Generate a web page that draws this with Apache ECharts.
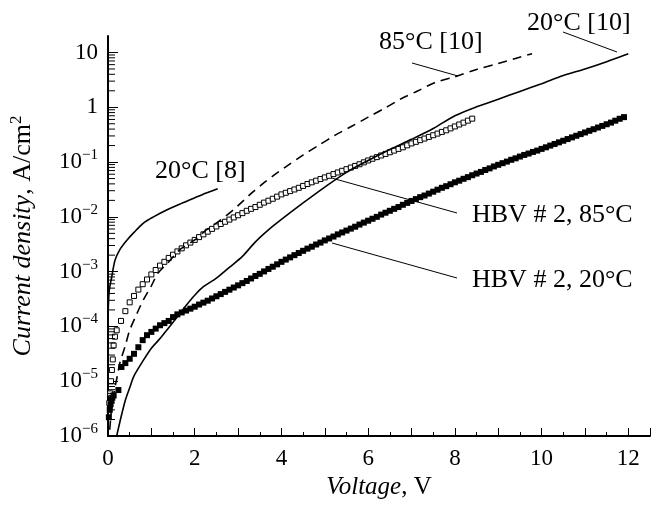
<!DOCTYPE html>
<html lang="en">
  <head>
    <meta charset="UTF-8" />
    <title>J-V</title>
    <script src="https://cdn.jsdelivr.net/npm/echarts@6.0.0/dist/echarts.min.js"></script>
    <style>
      html, body { margin: 0; padding: 0; background: #fff; }
    </style>
  </head>
  <body>
    <div id="main" style="width: 653px; height: 506px"></div>
    <script>
      // tick positions
      var xLabels = [0, 2, 4, 6, 8, 10, 12]
      var yMajor = [1e-6, 1e-5, 1e-4, 1e-3, 1e-2, 1e-1, 1, 10]
      var yMinor = []
      yMajor.slice(0, 7).forEach(function (d) {
        for (var m = 2; m <= 9; m++) yMinor.push(+(m * d).toPrecision(3))
      })

      // 20°C [8], solid
      var ref8_20 = [
        [0.0, 1.5e-4], [0.01, 2.5e-4], [0.03, 4.6e-4], [0.085, 7.9e-4], [0.16, 1.6e-3],
        [0.27, 2.5e-3], [0.43, 3.7e-3], [0.6, 5.2e-3], [0.81, 7.6e-3], [1.05, 1.0e-2],
        [1.34, 1.32e-2], [1.65, 1.7e-2], [1.95, 2.14e-2], [2.25, 2.7e-2], [2.53, 3.27e-2]
      ]
      // 85°C [10], dashed
      var ref10_85 = [
        [0.04, 1.3e-6], [0.08, 3e-6], [0.15, 7e-6], [0.22, 1.3e-5], [0.27, 2.1e-5], [0.4, 4.5e-5],
        [0.5, 8.5e-5], [0.65, 1.6e-4], [0.81, 3e-4], [1.0, 5.5e-4], [1.15, 9.3e-4], [1.4, 1.5e-3],
        [1.65, 2.5e-3], [2.0, 3.8e-3], [2.26, 5.7e-3], [2.6, 8.8e-3], [2.87, 1.3e-2], [3.1, 1.9e-2],
        [3.33, 2.8e-2], [3.6, 4.2e-2], [3.82, 5.7e-2], [4.1, 8.2e-2], [4.47, 0.13], [4.85, 0.2],
        [5.24, 0.31], [5.6, 0.44], [6.0, 0.66], [6.4, 0.98], [6.76, 1.43], [7.15, 2.0],
        [7.53, 2.8], [8.0, 3.6], [8.5, 4.9], [9.0, 6.3], [9.4, 7.8], [9.78, 9.5]
      ]
      // 20°C [10], solid
      var ref10_20 = [
        [0.2, 1e-6], [0.3, 2.2e-6], [0.4, 4.5e-6], [0.5, 7.6e-6], [0.6, 1.25e-5], [0.8, 2.3e-5],
        [1.0, 4e-5], [1.2, 6e-5], [1.4, 9.5e-5], [1.6, 1.5e-4], [1.8, 2.4e-4], [2.0, 3.7e-4],
        [2.2, 5.3e-4], [2.5, 7.6e-4], [2.8, 1.2e-3], [3.1, 1.9e-3], [3.4, 3.5e-3], [3.7, 5.8e-3],
        [4.0, 9.0e-3], [4.5, 1.8e-2], [5.0, 3.5e-2], [5.5, 6.5e-2], [6.0, 0.107], [6.5, 0.17],
        [7.0, 0.26], [7.5, 0.41], [8.0, 0.7], [8.5, 1.02], [9.0, 1.4], [9.5, 1.95],
        [10.0, 2.7], [10.5, 3.8], [11.0, 5.0], [11.5, 6.8], [12.0, 9.5]
      ]
      // HBV #2, 85°C (open squares)
      var hbv85 = [
        [0.03, 4e-6], [0.05, 6e-6], [0.07, 1e-5], [0.09, 1.6e-5], [0.11, 2.5e-5], [0.13, 4.5e-5],
        [0.16, 6.5e-5], [0.2, 8.5e-5], [0.3, 1.26e-4], [0.4, 1.9e-4], [0.5, 2.75e-4], [0.6, 3.6e-4],
        [0.7, 4.7e-4], [0.8, 5.9e-4], [0.9, 7.2e-4], [1.0, 8.9e-4], [1.1, 1.07e-3], [1.2, 1.29e-3],
        [1.3, 1.51e-3], [1.4, 1.78e-3], [1.5, 2.04e-3], [1.6, 2.34e-3], [1.7, 2.66e-3], [1.8, 3.02e-3],
        [1.9, 3.39e-3], [2.0, 3.8e-3], [2.1, 4.27e-3], [2.2, 4.79e-3], [2.3, 5.37e-3], [2.4, 6.03e-3],
        [2.5, 6.68e-3], [2.6, 7.41e-3], [2.7, 8.13e-3], [2.8, 8.91e-3], [2.9, 9.77e-3], [3.0, 1.07e-2],
        [3.1, 1.17e-2], [3.2, 1.29e-2], [3.3, 1.4e-2], [3.4, 1.51e-2], [3.5, 1.66e-2], [3.6, 1.82e-2],
        [3.7, 1.97e-2], [3.8, 2.14e-2], [3.9, 2.34e-2], [4.0, 2.57e-2], [4.1, 2.75e-2], [4.2, 2.95e-2],
        [4.3, 3.16e-2], [4.4, 3.39e-2], [4.5, 3.67e-2], [4.6, 3.98e-2], [4.7, 4.27e-2], [4.8, 4.57e-2],
        [4.9, 4.9e-2], [5.0, 5.25e-2], [5.1, 5.62e-2], [5.2, 6.03e-2], [5.3, 6.46e-2], [5.4, 6.92e-2],
        [5.5, 7.41e-2], [5.6, 7.94e-2], [5.7, 8.51e-2], [5.8, 9.12e-2], [5.9, 9.89e-2], [6.0, 0.107],
        [6.1, 0.115], [6.2, 0.123], [6.3, 0.132], [6.4, 0.141], [6.5, 0.151], [6.6, 0.162],
        [6.7, 0.174], [6.8, 0.186], [6.9, 0.202], [7.0, 0.219], [7.1, 0.234], [7.2, 0.251],
        [7.3, 0.269], [7.4, 0.288], [7.5, 0.309], [7.6, 0.331], [7.7, 0.355], [7.8, 0.38],
        [7.9, 0.412], [8.0, 0.447], [8.1, 0.485], [8.2, 0.525], [8.3, 0.57], [8.4, 0.62]
      ]
      // HBV #2, 20°C (filled squares)
      var hbv20 = [
        [0.02, 2.2e-6], [0.04, 3e-6], [0.06, 3.8e-6], [0.08, 4.5e-6], [0.1, 5e-6], [0.13, 5.5e-6],
        [0.24, 6.9e-6], [0.31, 1.82e-5], [0.4, 2.14e-5], [0.5, 2.57e-5], [0.6, 3.16e-5], [0.7, 4.17e-5],
        [0.8, 5.62e-5], [0.9, 6.92e-5], [1.0, 7.94e-5], [1.1, 9.12e-5], [1.2, 1.05e-4], [1.3, 1.15e-4],
        [1.4, 1.26e-4], [1.5, 1.48e-4], [1.6, 1.66e-4], [1.7, 1.8e-4], [1.8, 1.95e-4], [1.9, 2.11e-4],
        [2.0, 2.29e-4], [2.1, 2.51e-4], [2.2, 2.72e-4], [2.3, 2.95e-4], [2.4, 3.24e-4], [2.5, 3.55e-4],
        [2.6, 3.89e-4], [2.7, 4.27e-4], [2.8, 4.68e-4], [2.9, 5.13e-4], [3.0, 5.62e-4], [3.1, 6.17e-4],
        [3.2, 6.76e-4], [3.3, 7.5e-4], [3.4, 8.32e-4], [3.5, 9.12e-4], [3.6, 1.01e-3], [3.7, 1.12e-3],
        [3.8, 1.23e-3], [3.9, 1.36e-3], [4.0, 1.51e-3], [4.1, 1.66e-3], [4.2, 1.82e-3], [4.3, 2.0e-3],
        [4.4, 2.19e-3], [4.5, 2.4e-3], [4.6, 2.63e-3], [4.7, 2.85e-3], [4.8, 3.13e-3], [4.9, 3.39e-3],
        [5.0, 3.72e-3], [5.1, 4.03e-3], [5.2, 4.37e-3], [5.3, 4.79e-3], [5.4, 5.19e-3], [5.5, 5.62e-3],
        [5.6, 6.1e-3], [5.7, 6.61e-3], [5.8, 7.24e-3], [5.9, 7.85e-3], [6.0, 8.51e-3], [6.1, 9.23e-3],
        [6.2, 1.0e-2], [6.3, 1.1e-2], [6.4, 1.19e-2], [6.5, 1.29e-2], [6.6, 1.4e-2], [6.7, 1.51e-2],
        [6.8, 1.66e-2], [6.9, 1.8e-2], [7.0, 1.95e-2], [7.1, 2.11e-2], [7.2, 2.29e-2], [7.3, 2.45e-2],
        [7.4, 2.66e-2], [7.5, 2.88e-2], [7.6, 3.13e-2], [7.7, 3.39e-2], [7.8, 3.63e-2], [7.9, 3.94e-2],
        [8.0, 4.27e-2], [8.1, 4.57e-2], [8.2, 4.95e-2], [8.3, 5.31e-2], [8.4, 5.75e-2], [8.5, 6.17e-2],
        [8.6, 6.61e-2], [8.7, 7.16e-2], [8.8, 7.67e-2], [8.9, 8.32e-2], [9.0, 8.91e-2], [9.1, 9.55e-2],
        [9.2, 0.102], [9.3, 0.11], [9.4, 0.117], [9.5, 0.126], [9.6, 0.135], [9.7, 0.143],
        [9.8, 0.153], [9.9, 0.162], [10.0, 0.174], [10.1, 0.186], [10.2, 0.2], [10.3, 0.214],
        [10.4, 0.229], [10.5, 0.245], [10.6, 0.263], [10.7, 0.282], [10.8, 0.302], [10.9, 0.324],
        [11.0, 0.347], [11.1, 0.372], [11.2, 0.398], [11.3, 0.427], [11.4, 0.457], [11.5, 0.49],
        [11.6, 0.525], [11.7, 0.569], [11.8, 0.617], [11.9, 0.661]
      ]

      var FONT = '"Liberation Serif", "Times New Roman", serif'

      function yLabel(v) {
        var e = Math.round(Math.log10(v))
        if (e === 0) return '{b|1}'
        if (e === 1) return '{b|10}'
        return '{b|10}{s|\u2212' + -e + '}'
      }

      var chart = echarts.init(document.getElementById('main'))

      var annot = [
        { t: '20°C [10]', x: 527, y: 23.5, l: [563, 32, 617, 52] },
        { t: '85°C [10]', x: 379, y: 42, l: [412, 63, 458, 76] },
        { t: '20°C [8]', x: 155, y: 171 },
        { t: 'HBV # 2, 85°C', x: 472, y: 215, l: [328, 177, 457, 213] },
        { t: 'HBV # 2, 20°C', x: 472, y: 280, l: [332, 243, 457, 278] }
      ]
      var graphics = []
      annot.forEach(function (a) {
        graphics.push({
          type: 'text',
          style: { text: a.t, x: a.x, y: a.y, font: '26px ' + FONT, fill: '#000', verticalAlign: 'middle' }
        })
        if (a.l) {
          graphics.push({
            type: 'line',
            shape: { x1: a.l[0], y1: a.l[1], x2: a.l[2], y2: a.l[3] },
            style: { stroke: '#000', lineWidth: 1 }
          })
        }
      })

      var option = {
        animation: false,
        backgroundColor: '#fff',
        grid: { left: 108, right: 0, top: 36, bottom: 70, containLabel: false },
        xAxis: {
          type: 'value',
          min: 0,
          max: 12.5,
          interval: 1,
          name: '{i|Voltage}, V',
          nameLocation: 'middle',
          nameGap: 39,
          nameTextStyle: {
            fontFamily: FONT, fontSize: 25, color: '#000',
            rich: { i: { fontFamily: FONT, fontSize: 25, fontStyle: 'italic', color: '#000' } }
          },
          axisLine: { lineStyle: { color: '#000', width: 2 } },
          axisTick: { inside: true, length: 8, lineStyle: { color: '#000', width: 1 } },
          minorTick: { show: true, splitNumber: 2, length: 4, lineStyle: { color: '#000', width: 1 } },
          axisLabel: {
            margin: 11,
            fontFamily: FONT, fontSize: 23, color: '#000',
            formatter: function (v) { return xLabels.indexOf(v) >= 0 ? String(v) : '' }
          },
          splitLine: { show: false }
        },
        yAxis: {
          type: 'log',
          logBase: 10,
          min: 1e-6,
          max: 20,
          name: '{i|Current density}, A/cm{s|2}',
          nameLocation: 'middle',
          nameGap: 69,
          nameTextStyle: {
            fontFamily: FONT, fontSize: 26, color: '#000',
            rich: {
              i: { fontFamily: FONT, fontSize: 26, fontStyle: 'italic', color: '#000' },
              s: { fontFamily: FONT, fontSize: 17, color: '#000', padding: [0, 0, 14, 0] }
            }
          },
          axisLine: { lineStyle: { color: '#000', width: 2 } },
          axisTick: { inside: true, length: 10, customValues: yMajor, lineStyle: { color: '#000', width: 1 } },
          axisLabel: {
            margin: 10,
            customValues: yMajor,
            formatter: yLabel,
            rich: {
              b: { fontFamily: FONT, fontSize: 23, color: '#000' },
              s: { fontFamily: FONT, fontSize: 15, color: '#000', padding: [0, 0, 14, 0] }
            }
          },
          splitLine: { show: false }
        },
        series: [
          {
            // log minor ticks on the y axis, placed through the axis scale
            type: 'custom',
            silent: true,
            z: 10,
            data: yMinor.map(function (v) { return [0.5, v] }),
            renderItem: function (params, api) {
              var p = api.coord([0, api.value(1)])
              return {
                type: 'line',
                shape: { x1: p[0], y1: p[1], x2: p[0] + 7, y2: p[1] },
                style: { stroke: '#000', lineWidth: 1 }
              }
            }
          },
          {
            type: 'line', data: ref8_20, symbol: 'none', silent: true, smooth: 0.3,
            lineStyle: { color: '#000', width: 1.6 }
          },
          {
            type: 'line', data: ref10_85, symbol: 'none', silent: true, smooth: 0.3,
            lineStyle: { color: '#000', width: 1.6, type: [9, 6] }
          },
          {
            type: 'line', data: ref10_20, symbol: 'none', silent: true, smooth: 0.3,
            lineStyle: { color: '#000', width: 1.6 }
          },
          {
            type: 'scatter', data: hbv85, symbol: 'rect', symbolSize: 5, silent: true,
            itemStyle: { color: '#fff', borderColor: '#000', borderWidth: 1, opacity: 1 }
          },
          {
            type: 'scatter', data: hbv20, symbol: 'rect', symbolSize: 6, silent: true,
            itemStyle: { color: '#000', opacity: 1 }
          }
        ],
        graphic: graphics
      }
      chart.setOption(option)
    </script>
  </body>
</html>
